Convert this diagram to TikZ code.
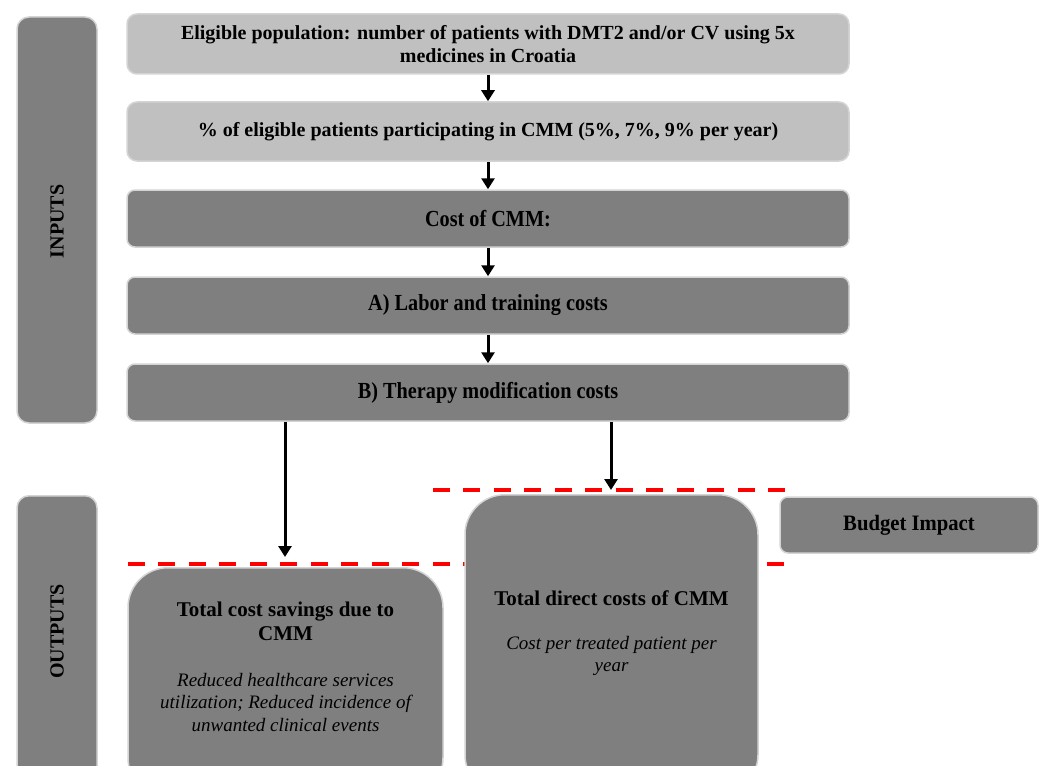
\documentclass[tikz,border=0pt]{standalone}
\usepackage{fontspec}
\setmainfont{Liberation Serif}
\usetikzlibrary{arrows.meta}
\definecolor{lg}{HTML}{C0C0C0}
\definecolor{dg}{HTML}{7F7F7F}
\definecolor{edge}{HTML}{D4D4D4}
\definecolor{rd}{HTML}{FF0000}
\begin{document}
\begin{tikzpicture}[x=1pt,y=-1pt,
  base/.style={draw=edge, line width=1.5pt, inner sep=0pt, align=center, font=\bfseries\fontsize{20}{23.5}\selectfont},
  lightbox/.style={base, fill=lg, rounded corners=10pt, minimum width=722pt, minimum height=60pt},
  darkbox/.style={base, fill=dg, rounded corners=8pt, minimum width=722pt, minimum height=57pt},
  bar/.style={draw=edge, line width=1.5pt, fill=dg, rounded corners=12pt, minimum width=80pt, inner sep=0pt},
  bartxt/.style={rotate=90, font=\bfseries\fontsize{20}{22}\selectfont},
  bigbox/.style={draw=edge, line width=1.5pt, fill=dg, rounded corners=40pt, inner sep=0pt},
  flow/.style={line width=3pt, -{Triangle[width=13pt,length=11pt]}},
  reddash/.style={draw=rd, line width=4pt, dash pattern=on 17pt off 13.45pt},
  title/.style={align=center, inner sep=0pt, font=\bfseries\fontsize{21}{24}\selectfont},
  desc/.style={align=center, inner sep=0pt, font=\itshape\fontsize{19}{22.5}\selectfont}
]
\useasboundingbox (0,0) rectangle (1040,765);
\clip (0,0) rectangle (1040,765);
\fill[white] (0,0) rectangle (1040,765);

% side bars
\node[bar, minimum height=406pt] (inputs) at (57,220) {};
\node[bartxt] (inputstxt) at (57,221.5) {INPUTS};
\node[bar, minimum height=300pt, anchor=north] (outputs) at (57,495) {};
\node[bartxt] (outputstxt) at (57,631.5) {OUTPUTS};

% input boxes
\node[lightbox] (b1) at (488,44) {Eligible population: number of patients with DMT2 and/or CV using 5x\\medicines in Croatia};
\node[lightbox, minimum height=59pt] (b2) at (488,131.5) {\% of eligible patients participating in CMM (5\%, 7\%, 9\% per year)};
\node[darkbox] (b3) at (488,218.5) {\scalebox{0.88}[1]{\fontsize{23}{24}\selectfont Cost of CMM:}};
\node[darkbox] (b4) at (488,305.5) {\scalebox{0.88}[1]{\fontsize{23}{24}\selectfont A) Labor and training costs}};
\node[darkbox] (b5) at (488,392.5) {\scalebox{0.88}[1]{\fontsize{23}{24}\selectfont B) Therapy modification costs}};

\draw[flow] (b1) -- (b2);
\draw[flow] (b2) -- (b3);
\draw[flow] (b3) -- (b4);
\draw[flow] (b4) -- (b5);

% red dashed lines
\coordinate (r1a) at (433,490);
\coordinate (r1b) at (785,490);
\coordinate (r2a) at (128,564);
\coordinate (r2b) at (785,564);
\draw[reddash] (r1a) -- (r1b);
\draw[reddash] (r2a) -- (r2b);

% output boxes
\node[bigbox, minimum width=315pt, minimum height=230pt, anchor=north] (savings) at (285.5,567) {};
\node[title] (savingstitle) at (285.5,621) {Total cost savings due to\\CMM};
\node[desc] (savingsdesc) at (285.5,702.5) {Reduced healthcare services\\utilization; Reduced incidence of\\unwanted clinical events};

\node[bigbox, minimum width=293pt, minimum height=300pt, anchor=north] (direct) at (611.5,494) {};
\node[title] (directtitle) at (611.5,598) {Total direct costs of CMM};
\node[desc] (directdesc) at (611.5,656) {Cost per treated patient per\\year};

\node[base, fill=dg, rounded corners=8pt, minimum width=258pt, minimum height=56pt] (budget) at (909,525) {\scalebox{0.94}[1]{\fontsize{22}{24}\selectfont Budget Impact}};

% arrows to outputs
\coordinate (t1) at (285,557);
\coordinate (t2) at (611,490);
\draw[flow] (b5.south -| t1) -- (t1);
\draw[flow] (b5.south -| t2) -- (t2);
\end{tikzpicture}
\end{document}
